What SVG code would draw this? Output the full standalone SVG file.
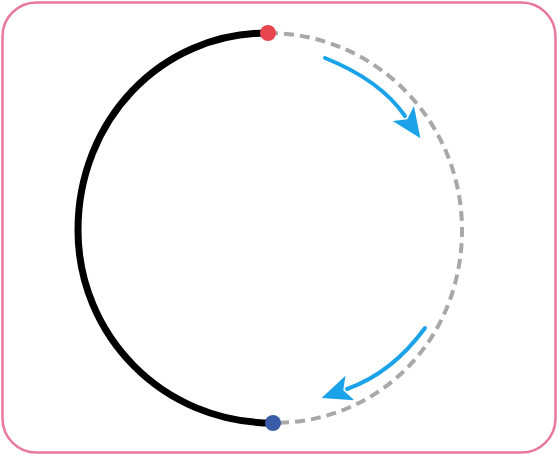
<svg xmlns="http://www.w3.org/2000/svg" width="558" height="455" viewBox="0 0 558 455">
  <style>
    .frame { fill: #ffffff; stroke: #e8789f; stroke-width: 2.5; }
    .solid { fill: none; stroke: #000000; stroke-width: 7; stroke-linecap: round; }
    .dash { fill: none; stroke: #a8a8a8; stroke-width: 4; stroke-dasharray: 10 6; }
    .arrow { fill: none; stroke: #1aa3e8; stroke-width: 4; stroke-linecap: round; }
  </style>
  <defs>
    <marker id="head" markerUnits="userSpaceOnUse" markerWidth="30" markerHeight="26" viewBox="0 0 30 26" refX="3" refY="13" orient="auto">
      <path d="M0,0 L30,13 L0,26 L7,13 Z" fill="#1aa3e8"/>
    </marker>
  </defs>
  <rect class="frame" x="2.5" y="2.5" width="553" height="450" rx="34" ry="34"/>
  <g id="connectors">
    <path id="arc-left" class="solid" d="M268,33 C160,33 78,121 78,230 C78,335 162,423 273,423"/>
    <path id="arc-right" class="dash" d="M268,33 C375,33 462,121 462,230 C462,339 380,423 273,423"/>
    <path id="arrow-top" class="arrow" d="M325,58 Q380,80 405,116" marker-end="url(#head)"/>
    <path id="arrow-bottom" class="arrow" d="M425,328 Q392,373 347,389" marker-end="url(#head)"/>
  </g>
  <g id="start-point">
    <circle cx="268" cy="33" r="8" fill="#e8474f"/>
  </g>
  <g id="end-point">
    <circle cx="273" cy="423" r="8" fill="#3a5ca8"/>
  </g>
</svg>
